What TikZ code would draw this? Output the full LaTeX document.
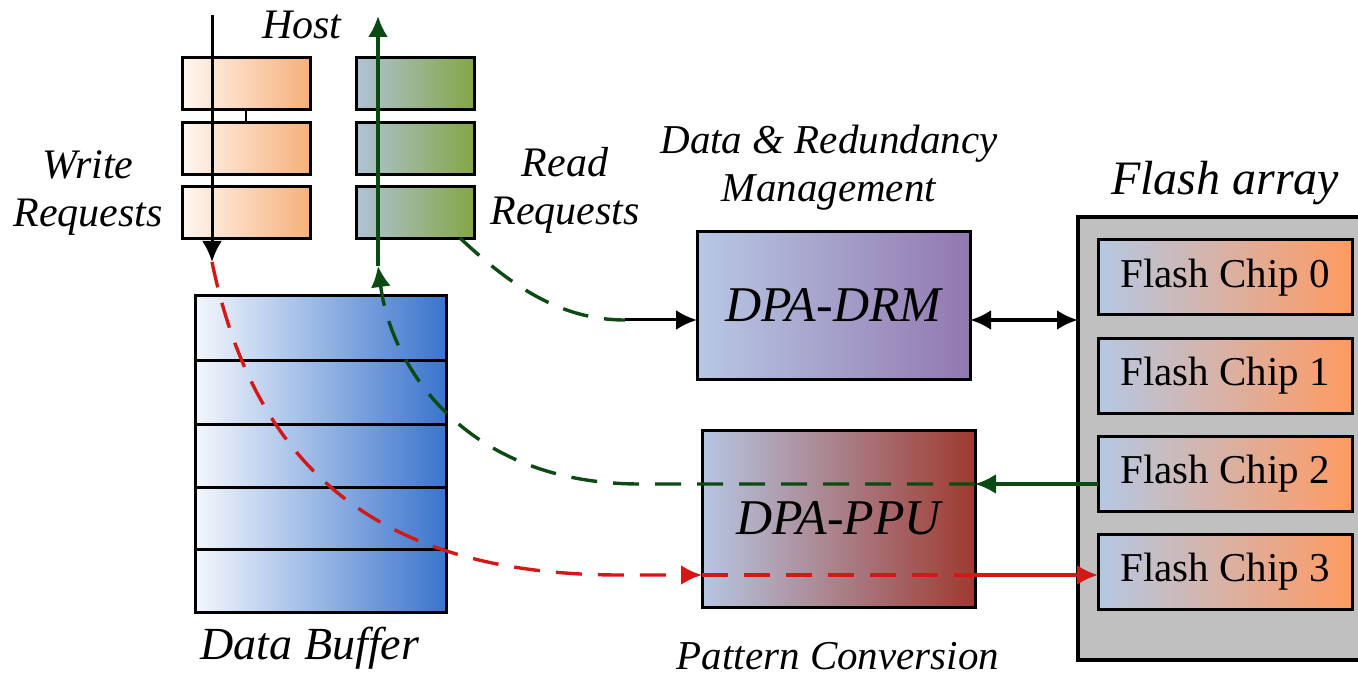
\documentclass[tikz,border=0pt]{standalone}
\usepackage{fontspec}
\setmainfont{Liberation Serif}
\usetikzlibrary{arrows.meta}
\definecolor{wL}{HTML}{FFF8F2}
\definecolor{wR}{HTML}{F6B07A}
\definecolor{rL}{HTML}{AFC3D6}
\definecolor{rR}{HTML}{84A646}
\definecolor{bL}{HTML}{F4F7FC}
\definecolor{bR}{HTML}{3A74CC}
\definecolor{dL}{HTML}{B8C8E4}
\definecolor{dR}{HTML}{9278B0}
\definecolor{pL}{HTML}{B6C6E2}
\definecolor{pR}{HTML}{9E3A30}
\definecolor{cL}{HTML}{B4C8E4}
\definecolor{cR}{HTML}{FF9A62}
\definecolor{faG}{HTML}{C0C0C0}
\definecolor{grn}{HTML}{0B4A12}
\definecolor{rd}{HTML}{D41818}
\begin{document}
\begin{tikzpicture}[x=0.5pt,y=-0.5pt,
  >={Latex[length=10.5pt,width=10pt]},
  boxb/.style={draw=black, line width=1.5pt, inner sep=0pt, outer sep=0pt},
  wbox/.style={boxb, left color=wL, right color=wR, minimum width=64pt, minimum height=26pt},
  rbox/.style={boxb, left color=rL, right color=rR, minimum width=59pt, minimum height=26pt},
  chip/.style={boxb, left color=cL, right color=cR, minimum width=127pt, minimum height=37.5pt,
     font=\fontsize{20.5}{24}\selectfont},
  lbl/.style={font=\itshape\fontsize{21}{24}\selectfont, align=center, inner sep=0pt},
  dsh/.style={dash pattern=on 13pt off 8pt},
  bline/.style={draw=black, line width=1.5pt},
  gline/.style={draw=grn, line width=1.7pt},
  rline/.style={draw=rd, line width=1.7pt}]
\useasboundingbox (0,0) rectangle (1358,678);
% flash array
\node[boxb, fill=faG, line width=1.7pt, minimum width=143pt, minimum height=221.5pt] (fa) at (1221,438.5) {};
\node[chip] (c0) at (1225,277.5) {Flash Chip 0};
\node[chip] (c1) at (1225,376) {Flash Chip 1};
\node[chip] (c2) at (1225,473.5) {Flash Chip 2};
\node[chip] (c3) at (1225,571.5) {Flash Chip 3};
\node[font=\itshape\fontsize{24}{28}\selectfont, inner sep=0pt] (fal) at (1225,183) {Flash array};
% request queues
\node[wbox] (w1) at (246,84) {};
\node[wbox] (w2) at (246,149) {};
\node[wbox] (w3) at (246,213) {};
\node[rbox] (r1) at (415,84) {};
\node[rbox] (r2) at (415,149) {};
\node[rbox] (r3) at (415,213) {};
\draw[line width=1.1pt] (w1.south) -- (w2.north);
% data buffer
\node[boxb, left color=bL, right color=bR, minimum width=125.5pt, minimum height=158pt] (buf) at (320.5,454) {};
\foreach \yy in {360,424,487,549} \draw[line width=1.5pt] (195,\yy) -- (446,\yy);
% DRM and PPU
\node[boxb, left color=dL, right color=dR, minimum width=136.5pt, minimum height=73.5pt,
  font=\itshape\fontsize{25}{28}\selectfont] (drm) at (833.5,305.5) {DPA-DRM};
\node[boxb, left color=pL, right color=pR, minimum width=136.5pt, minimum height=88.5pt,
  font=\itshape\fontsize{25}{28}\selectfont] (ppu) at (838.5,518.5) {DPA-PPU};
% labels
\node[lbl] (host) at (302,25) {Host};
\node[lbl] (wrl) at (88,193) {Write\\Requests};
\node[lbl] (rdl) at (565,190) {Read\\Requests};
\node[lbl, font=\itshape\fontsize{20.5}{24}\selectfont] (drml) at (829,168) {Data \& Redundancy\\Management};
\node[lbl, font=\itshape\fontsize{23}{26}\selectfont] (bufl) at (310,648) {Data Buffer};
\node[lbl, font=\itshape\fontsize{20.5}{24}\selectfont] (ppul) at (838,656) {Pattern Conversion};
% coordinates
\coordinate (hostW) at (212,15);
\coordinate (wtip) at (212,262);
\coordinate (hostR) at (378,16);
\coordinate (rtip) at (378,266);
\coordinate (redy) at (0,575);
\coordinate (grny) at (0,484);
\coordinate (drmy) at (0,320);
\coordinate (rstart) at (460,238);
\coordinate (rmid) at (625,320);
% write path
\draw[bline,->] (hostW) -- (wtip);
\draw[rline,dsh,->] (wtip) .. controls (255,470) and (380,575) .. (620,575) -- (ppu.west |- redy);
\draw[rline,dsh] (ppu.west |- redy) -- (ppu.east |- redy);
\draw[rline,->] (ppu.east |- redy) -- (c3.west |- redy);
% read path
\draw[gline,->] (c2.west |- grny) -- (ppu.east |- grny);
\draw[gline,dsh,->] (ppu.east |- grny) -- (640,484) .. controls (470,484) and (392,372) .. (rtip);
\draw[gline,->] (rtip) -- (hostR);
\draw[gline,dsh] (rstart) .. controls (510,285) and (560,320) .. (rmid);
\draw[bline,->] (rmid) -- (drm.west |- drmy);
\draw[line width=2pt,<->] (drm.east |- drmy) -- (fa.west |- drmy);
\end{tikzpicture}
\end{document}
